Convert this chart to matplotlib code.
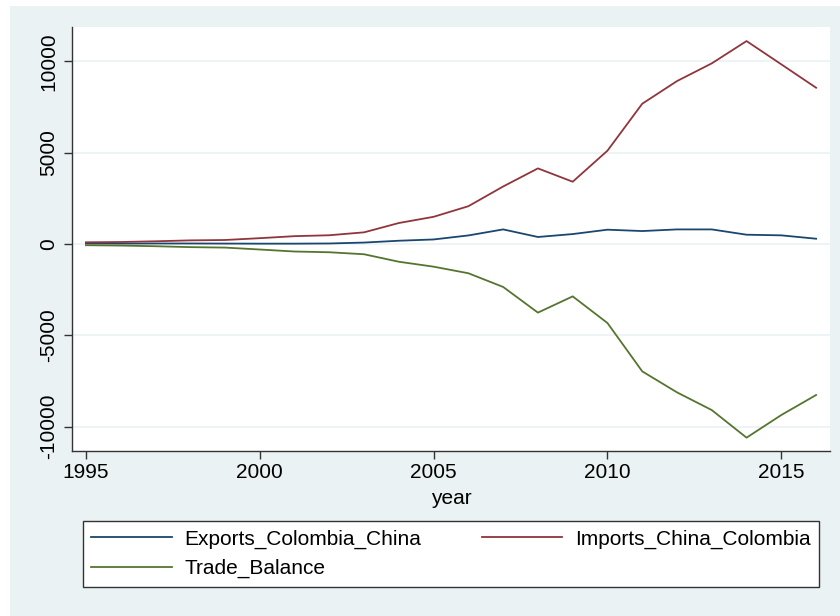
import matplotlib
matplotlib.use("Agg")
import matplotlib.pyplot as plt
from matplotlib.patches import Rectangle

plt.rcParams['font.family'] = ['Liberation Sans', 'DejaVu Sans']
plt.rcParams['axes.unicode_minus'] = False

years = list(range(1995, 2017))
exports = [30, 25, 30, 30, 25, 20, 20, 30, 80, 180, 250, 470, 800, 385, 545, 785,
           710, 800, 800, 510, 475, 290]
imports = [95, 110, 150, 200, 220, 320, 430, 480, 640, 1150, 1490, 2070, 3150, 4140,
           3410, 5110, 7680, 8920, 9890, 11110, 9835, 8555]
trade_balance = [-65, -85, -120, -170, -195, -300, -410, -450, -560, -970, -1240, -1600,
                 -2350, -3755, -2865, -4325, -6970, -8120, -9090, -10600, -9360, -8265]

navy = '#1a476f'
maroon = '#90353b'
green = '#55752f'
bg = '#eaf2f3'
fs = 15

fig = plt.figure(figsize=(8.4, 6.16), dpi=100, facecolor='white')
fig.patches.append(Rectangle((10 / 840, 0), 830 / 840, 1 - 6 / 616,
                             transform=fig.transFigure, facecolor=bg,
                             edgecolor='none', zorder=-10))

ax = fig.add_axes([72 / 840, 1 - 451 / 616, 758 / 840, 424 / 616])
ax.set_facecolor('white')

l1, = ax.plot(years, exports, color=navy, lw=1.3, label='Exports_Colombia_China')
l2, = ax.plot(years, imports, color=maroon, lw=1.3, label='Imports_China_Colombia')
l3, = ax.plot(years, trade_balance, color=green, lw=1.3, label='Trade_Balance')

ax.set_xlim(1994.6, 2016.4)
ax.set_ylim(-11330, 11880)
ax.set_xticks([1995, 2000, 2005, 2010, 2015])
ax.set_yticks([-10000, -5000, 0, 5000, 10000])
ax.grid(axis='y', color=bg, lw=1.2)
ax.set_axisbelow(True)

for s in ['top', 'right']:
    ax.spines[s].set_visible(False)
for s in ['left', 'bottom']:
    ax.spines[s].set_color('#333333')
    ax.spines[s].set_linewidth(1.0)

ax.tick_params(axis='both', direction='out', length=6, width=1, color='#333333',
               labelsize=fs, labelcolor='black')
ax.tick_params(axis='y', pad=4)
ax.tick_params(axis='x', pad=3)
for lab in ax.get_yticklabels():
    lab.set_rotation(90)
    lab.set_va('center')

ax.set_xlabel('year', fontsize=fs, labelpad=5)

leg = fig.legend([l1, l3, l2],
                 ['Exports_Colombia_China', 'Trade_Balance', 'Imports_China_Colombia'],
                 ncol=2, loc='upper left',
                 bbox_to_anchor=(83 / 840, 1 - 589 / 616, 736 / 840, 68 / 616),
                 mode='expand', fontsize=fs, frameon=True, fancybox=False,
                 handlelength=3.85, handletextpad=0.62, columnspacing=1.5,
                 labelspacing=0.5, borderpad=0.4, borderaxespad=0)
leg.get_frame().set_edgecolor('#333333')
leg.get_frame().set_facecolor('white')
leg.get_frame().set_alpha(1)
leg.get_frame().set_linewidth(1.0)

fig.savefig('out.png', dpi=100, facecolor=fig.get_facecolor())
